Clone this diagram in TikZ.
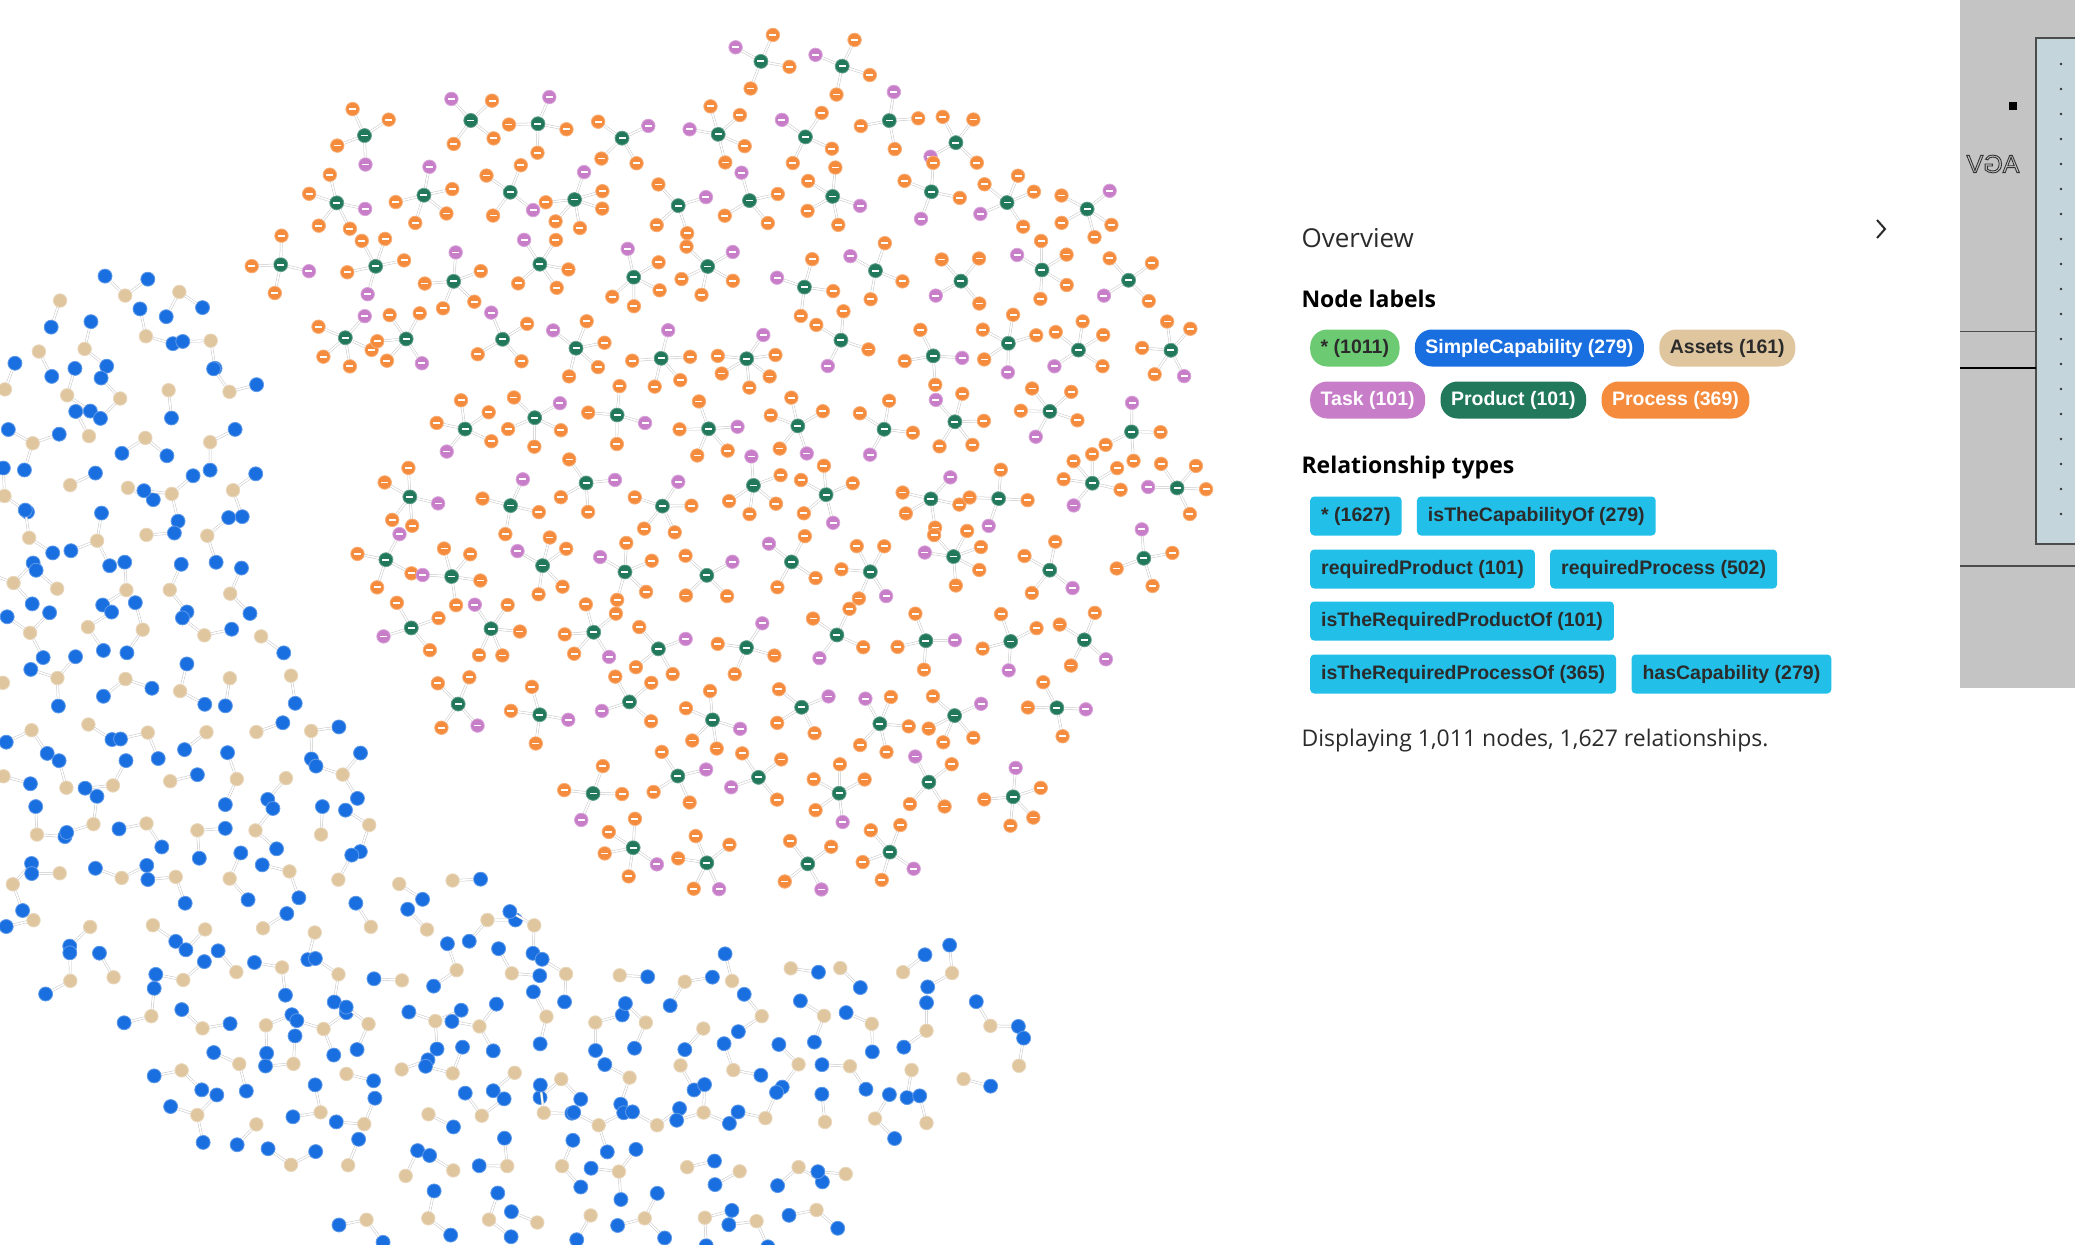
\documentclass[tikz,border=0pt]{standalone}
\usepackage{fontspec}
\setmainfont{Open Sans}
\newfontfamily\pillfont{Liberation Sans}
\usetikzlibrary{positioning}

\definecolor{procorange}{HTML}{F58B3C}
\definecolor{tasklilac}{HTML}{C77DC8}
\definecolor{prodgreen}{HTML}{21785A}
\definecolor{capblue}{HTML}{1A6FE0}
\definecolor{assettan}{HTML}{DFC69F}
\definecolor{allgreen}{HTML}{6CCB72}
\definecolor{relcyan}{HTML}{22BFE8}
\definecolor{panelgrey}{HTML}{C4C4C4}
\definecolor{panelblue}{HTML}{C5D5DC}
\definecolor{inktext}{HTML}{2B2B2B}

% hollow letters
\newcommand{\hollowtext}[1]{\special{pdf:literal direct 1 Tr 0.9 w}#1\special{pdf:literal direct 0 Tr}}

\tikzset{
  gnode/.style={circle, inner sep=0pt, minimum size=13.5pt, fill=#1, draw=#1!70!white, line width=0.8pt},
  inmark/.style={path picture={\fill[white] ([xshift=-3.5pt,yshift=-0.9pt]path picture bounding box.center) rectangle ([xshift=3.5pt,yshift=0.9pt]path picture bounding box.center);}},
  proc/.style={gnode=procorange, inmark},
  task/.style={gnode=tasklilac, inmark},
  prod/.style={gnode=prodgreen, minimum size=14pt, inmark},
  capnode/.style={gnode=capblue, minimum size=14pt},
  asset/.style={gnode=assettan},
  rel/.style={draw=gray!45, line width=0.5pt, double=white, double distance=1.6pt},
  pill/.style={fill=#1, rounded corners=17pt, minimum height=37pt, inner xsep=10.5pt, inner ysep=0pt, anchor=west,
    font=\pillfont\bfseries\fontsize{19.5}{20}\selectfont},
  reltype/.style={fill=relcyan, rounded corners=4pt, minimum height=39pt, inner xsep=11pt, inner ysep=0pt, anchor=west,
    text=inktext, font=\pillfont\bfseries\fontsize{19.5}{20}\selectfont},
  heading/.style={anchor=west, text=black, font=\bfseries\fontsize{23}{26}\selectfont},
}

\begin{document}
\begin{tikzpicture}[x=1pt, y=-1pt]
\useasboundingbox (0,0) rectangle (2075,1245);
\fill[white] (0,0) rectangle (2075,1245);
\pgfmathsetseed{4211}

% product clusters in the middle
\foreach \r in {0,...,12}{
  \foreach \c in {0,...,12}{
    \pgfmathsetmacro\gx{250+\c*84+mod(\r,2)*42+rand*12}
    \pgfmathsetmacro\gy{58+\r*72.7+rand*12}
    \pgfmathtruncatemacro\inside{(veclen(\gx-780,\gy-475)<415)||(veclen((\gx-510)/235,(\gy-255)/185)<1)}
    \ifnum\inside=1
      \node[prod] (g\r-\c) at (\gx,\gy) {};
      \pgfmathtruncatemacro\nsat{random(3,4)+(rnd>0.85)}
      \pgfmathsetmacro\astart{random(0,359)}
      \pgfmathsetmacro\astep{250/\nsat}
      \node[task] (t\r-\c) at ([shift={(\astart:29)}]g\r-\c) {};
      \draw[rel] (g\r-\c) -- (t\r-\c);
      \foreach \k in {1,...,\nsat}{
        \pgfmathsetmacro\ang{\astart+\k*\astep+rand*12}
        \node[proc] (p\r-\c-\k) at ([shift={(\ang:29)}]g\r-\c) {};
        \draw[rel] (g\r-\c) -- (p\r-\c-\k);
      }
    \fi
  }
}

% asset clusters on the outer ring
\foreach \r in {0,...,23}{
  \foreach \c in {0,...,20}{
    \pgfmathsetmacro\ax{-20+\c*56+mod(\r,2)*28+rand*8}
    \pgfmathsetmacro\ay{150+\r*48.5+rand*8}
    \pgfmathsetmacro\rad{veclen(\ax-741,\ay-437)}
    \pgfmathsetmacro\ang{atan2(437-\ay,\ax-741)}
    \pgfmathsetmacro\angp{\ang<0 ? \ang+360 : \ang}
    \pgfmathsetmacro\rout{870-4*max(0,200-\angp)-4.5*max(0,\angp-255)}
    \pgfmathtruncatemacro\inring{(\rad>508)&&(\rad<\rout)&&(\angp>165)&&(\angp<294)&&(veclen(\ax-780,\ay-475)>478)&&(veclen((\ax-510)/305,(\ay-255)/255)>1)&&(\ax>-4)&&(\ay<1238)}
    \ifnum\inring=1
      \node[asset] (a\r-\c) at (\ax,\ay) {};
      \pgfmathtruncatemacro\nb{random(1,2)+(rnd>0.77)}
      \pgfmathsetmacro\bstart{random(0,359)}
      \foreach \k in {1,...,\nb}{
        \pgfmathsetmacro\bng{\bstart+(\k-1)*110+rand*15}
        \node[capnode] (b\r-\c-\k) at ([shift={(\bng:28)}]a\r-\c) {};
        \draw[rel] (a\r-\c) -- (b\r-\c-\k);
      }
    \fi
  }
}

% overview panel
\node[anchor=west, text=inktext, font=\fontsize{26}{30}\selectfont] (ovw) at (1298,238) {Overview};
\draw[inktext, line width=2pt] (1877,220) -- (1885,229) -- (1877,238);
\node[heading] (nlab) at (1298,299) {Node labels};
\node[pill=allgreen, text=inktext] (lall) at (1310,348) {* (1011)};
\node[pill=capblue, text=white, right=15pt of lall] (lcap) {SimpleCapability (279)};
\node[pill=assettan, text=inktext, right=15pt of lcap] (lass) {Assets (161)};
\node[pill=tasklilac, text=white] (ltask) at (1310,400) {Task (101)};
\node[pill=prodgreen, text=white, right=15pt of ltask] (lprod) {Product (101)};
\node[pill=procorange, text=white, right=15pt of lprod] (lproc) {Process (369)};
\node[heading] (rlab) at (1298,468) {Relationship types};
\node[reltype] (rall) at (1310,516) {* (1627)};
\node[reltype, right=15pt of rall] (rcapof) {isTheCapabilityOf (279)};
\node[reltype] (rreqprod) at (1310,569) {requiredProduct (101)};
\node[reltype, right=15pt of rreqprod] (rreqproc) {requiredProcess (502)};
\node[reltype] (rprodof) at (1310,621) {isTheRequiredProductOf (101)};
\node[reltype] (rprocof) at (1310,674) {isTheRequiredProcessOf (365)};
\node[reltype, right=15pt of rprocof] (rhascap) {hasCapability (279)};
\node[anchor=west, text=inktext, font=\fontsize{23}{26}\selectfont] (disp) at (1298,741) {Displaying 1,011 nodes, 1,627 relationships.};

% grey strip on the right
\fill[panelgrey] (1960,0) rectangle (2075,688);
\draw[line width=1.5pt, draw=black!70, fill=panelblue] (2036,38) rectangle (2085,544);
\draw[black!70, line width=1pt] (1960,331) -- (2036,331);
\draw[black, line width=2.2pt] (1960,368) -- (2036,368);
\draw[black!70, line width=1.2pt] (1960,566) -- (2075,566);
\fill[black] (2009,102) rectangle (2017,110);
\node[xscale=-1, text=black!80, font=\pillfont\fontsize{25}{25}\selectfont] (agv) at (1993,164) {\hollowtext{AGV}};
\foreach \i in {0,...,18}
  \fill[black!80] (2061,64+\i*25) circle (1.4pt);
\end{tikzpicture}
\end{document}
